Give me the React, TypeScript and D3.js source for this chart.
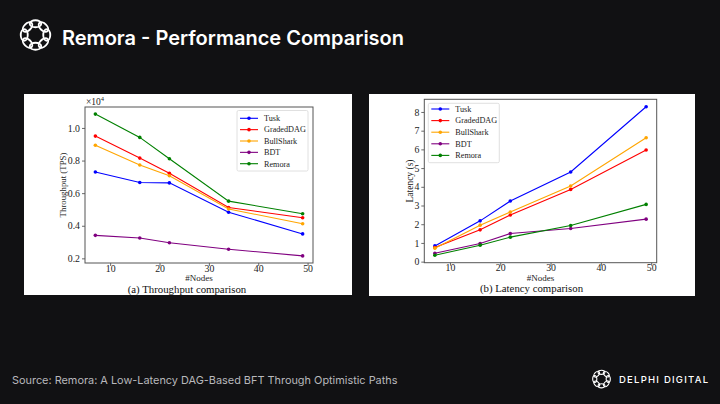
import React, { useEffect, useRef } from 'react';
import * as d3 from 'd3';

// x values shared by both panels
const nodes = [7, 16, 22, 34, 49];
const seriesNames = ['Tusk', 'GradedDAG', 'BullShark', 'BDT', 'Remora'];
const seriesColors = ['#0000ff', '#ff0000', '#ffa500', '#800080', '#008000'];

// throughput (x 10^4 TPS)
const tpTusk = [0.73, 0.665, 0.663, 0.483, 0.35];
const tpGraded = [0.95, 0.815, 0.722, 0.512, 0.449];
const tpBullShark = [0.894, 0.773, 0.707, 0.503, 0.412];
const tpBDT = [0.341, 0.325, 0.296, 0.256, 0.215];
const tpRemora = [1.085, 0.942, 0.811, 0.551, 0.474];

// latency (s)
const latTusk = [0.84, 2.18, 3.24, 4.79, 8.28];
const latGraded = [0.75, 1.7, 2.49, 3.86, 5.97];
const latBullShark = [0.72, 1.95, 2.65, 4.04, 6.62];
const latBDT = [0.45, 0.97, 1.5, 1.77, 2.27];
const latRemora = [0.34, 0.88, 1.31, 1.93, 3.06];

const xTicks = [10, 20, 30, 40, 50];
const tpTicks = [0.2, 0.4, 0.6, 0.8, 1.0];
const latTicks = [0, 1, 2, 3, 4, 5, 6, 7, 8];

const SERIF = '"Liberation Serif", "Times New Roman", serif';
const SANS = 'Inter, "Noto Sans", sans-serif';

interface PanelOpts {
  box: [number, number, number, number]; // left, top, right, bottom of axes
  series: number[][];
  yTicks: number[];
  yFormat: (v: number) => string;
  yLabel: string;
  yLabelX: number;
  yLabelSize: number;
  caption: string;
  captionX: number;
  legend: { x: number; y: number; w: number; h: number; row0: number; step: number };
  exponent?: boolean;
}

function padded(values: number[]): [number, number] {
  const [lo, hi] = d3.extent(values) as [number, number];
  const m = (hi - lo) * 0.05;
  return [lo - m, hi + m];
}

function drawPanel(svg: d3.Selection<SVGSVGElement, unknown, null, undefined>, o: PanelOpts) {
  const [l, t, r, b] = o.box;
  const x = d3.scaleLinear().domain(padded(nodes)).range([l, r]);
  const y = d3.scaleLinear().domain(padded(o.series.flat())).range([b, t]);
  const g = svg.append('g');

  // axes
  const xa = g.append('g')
    .attr('transform', `translate(0,${b})`)
    .call(d3.axisBottom(x).tickValues(xTicks).tickSize(3).tickSizeOuter(0));
  xa.selectAll('text').attr('y', 8.7).attr('dy', null);
  const ya = g.append('g')
    .attr('transform', `translate(${l},0)`)
    .call(d3.axisLeft(y).tickValues(o.yTicks).tickFormat(o.yFormat as any).tickSize(3).tickSizeOuter(0).tickPadding(2));
  [xa, ya].forEach(a => {
    a.select('.domain').remove();
    a.selectAll('line').attr('stroke', '#444').attr('stroke-width', 0.8);
    a.selectAll('text').attr('fill', '#222').attr('font-family', SERIF).attr('font-size', 9.8);
  });

  g.append('rect')
    .attr('x', l).attr('y', t).attr('width', r - l).attr('height', b - t)
    .attr('fill', 'none').attr('stroke', '#555').attr('stroke-width', 1);

  // lines
  const line = d3.line<number>().x((_, i) => x(nodes[i])).y(d => y(d));
  o.series.forEach((s, k) => {
    g.append('path').datum(s)
      .attr('fill', 'none').attr('stroke', seriesColors[k]).attr('stroke-width', 1.1).attr('d', line);
    g.selectAll(null).data(s).enter().append('circle')
      .attr('cx', (_, i) => x(nodes[i])).attr('cy', d => y(d)).attr('r', 1.8)
      .attr('fill', seriesColors[k]);
  });

  // legend
  const lg = o.legend;
  g.append('rect').attr('x', lg.x).attr('y', lg.y).attr('width', lg.w).attr('height', lg.h)
    .attr('fill', '#fff').attr('stroke', '#d8d8d8').attr('stroke-width', 0.8).attr('rx', 1.5);
  seriesNames.forEach((name, k) => {
    const yy = lg.row0 + k * lg.step;
    g.append('line').attr('x1', lg.x + 3).attr('x2', lg.x + 21).attr('y1', yy).attr('y2', yy)
      .attr('stroke', seriesColors[k]).attr('stroke-width', 1.1);
    g.append('circle').attr('cx', lg.x + 12).attr('cy', yy).attr('r', 1.8).attr('fill', seriesColors[k]);
    g.append('text').attr('x', lg.x + 27).attr('y', yy + 2.8).text(name)
      .attr('font-family', SERIF).attr('font-size', 8.2).attr('fill', '#222');
  });

  // labels
  g.append('text').attr('x', (l + r) / 2).attr('y', b + 18.3).attr('text-anchor', 'middle')
    .attr('font-family', SERIF).attr('font-size', 9).attr('fill', '#222').text('#Nodes');
  g.append('text').attr('transform', `translate(${o.yLabelX},${(t + b) / 2}) rotate(-90)`)
    .attr('text-anchor', 'middle').attr('font-family', SERIF).attr('font-size', o.yLabelSize).attr('fill', '#222')
    .text(o.yLabel);
  g.append('text').attr('x', o.captionX).attr('y', b + 29.6).attr('text-anchor', 'middle')
    .attr('font-family', SERIF).attr('font-size', 10.8).attr('fill', '#111').text(o.caption);

  if (o.exponent) {
    const e = g.append('text').attr('x', l + 1).attr('y', t - 2.5)
      .attr('font-family', SERIF).attr('font-size', 9.5).attr('fill', '#222');
    e.append('tspan').text('×10');
    e.append('tspan').attr('dy', -4).attr('font-size', 6.5).text('4');
  }
}

function drawLogo(svg: d3.Selection<SVGSVGElement, unknown, null, undefined>, cx: number, cy: number, s: number, w: number) {
  const g = svg.append('g').attr('transform', `translate(${cx},${cy}) scale(${s})`);
  d3.range(8).forEach(i => {
    const a = (i * 360) / 8;
    g.append('ellipse')
      .attr('transform', `rotate(${a}) translate(0,-9)`)
      .attr('rx', 4.6).attr('ry', 2.8)
      .attr('fill', 'none').attr('stroke', '#fff').attr('stroke-width', w);
  });
}

export default function App() {
  const svgRef = useRef<SVGSVGElement>(null);

  useEffect(() => {
    if (!svgRef.current) return;
    const svg = d3.select(svgRef.current);
    svg.selectAll('*').remove();

    svg.append('rect').attr('width', 720).attr('height', 404).attr('fill', '#111113');

    // header
    drawLogo(svg, 35.5, 35, 1.25, 1.5);
    svg.append('text').attr('x', 62).attr('y', 45)
      .attr('font-family', SANS).attr('font-weight', 600)
      .attr('font-size', 20).attr('fill', '#fff').text('Remora - Performance Comparison');

    // panels
    svg.append('rect').attr('x', 24).attr('y', 94).attr('width', 328).attr('height', 201).attr('fill', '#fff');
    svg.append('rect').attr('x', 369).attr('y', 94).attr('width', 326).attr('height', 202).attr('fill', '#fff');

    drawPanel(svg, {
      box: [85, 107, 313, 263],
      series: [tpTusk, tpGraded, tpBullShark, tpBDT, tpRemora],
      yTicks: tpTicks,
      yFormat: d3.format('.1f'),
      yLabel: 'Throughput (TPS)',
      yLabelX: 66,
      yLabelSize: 8.8,
      caption: '(a) Throughput comparison',
      captionX: 187,
      legend: { x: 237, y: 110.5, w: 71, h: 60.5, row0: 118.3, step: 11.35 },
      exponent: true,
    });

    drawPanel(svg, {
      box: [424.3, 99.3, 656.7, 262.7],
      series: [latTusk, latGraded, latBullShark, latBDT, latRemora],
      yTicks: latTicks,
      yFormat: d3.format('d'),
      yLabel: 'Latency (s)',
      yLabelX: 412.5,
      yLabelSize: 9.5,
      caption: '(b) Latency comparison',
      captionX: 531.5,
      legend: { x: 428.3, y: 103.3, w: 71, h: 59.4, row0: 109, step: 11.6 },
    });

    // footer
    svg.append('text').attr('x', 12).attr('y', 384)
      .attr('font-family', SANS).attr('font-size', 10.9)
      .attr('fill', '#b8b8bc').text('Source: Remora: A Low-Latency DAG-Based BFT Through Optimistic Paths');
    drawLogo(svg, 601.5, 379, 0.75, 1.4);
    svg.append('text').attr('x', 619).attr('y', 383.3)
      .attr('font-family', SANS).attr('font-size', 9.5).attr('font-weight', 500)
      .attr('textLength', 89).attr('lengthAdjust', 'spacing')
      .attr('fill', '#fff').text('DELPHI DIGITAL');
  }, []);

  return (
    <div style={{ position: 'fixed', left: 0, top: 0 }}>
      <svg ref={svgRef} width={720} height={404} style={{ display: 'block' }}></svg>
    </div>
  );
}
